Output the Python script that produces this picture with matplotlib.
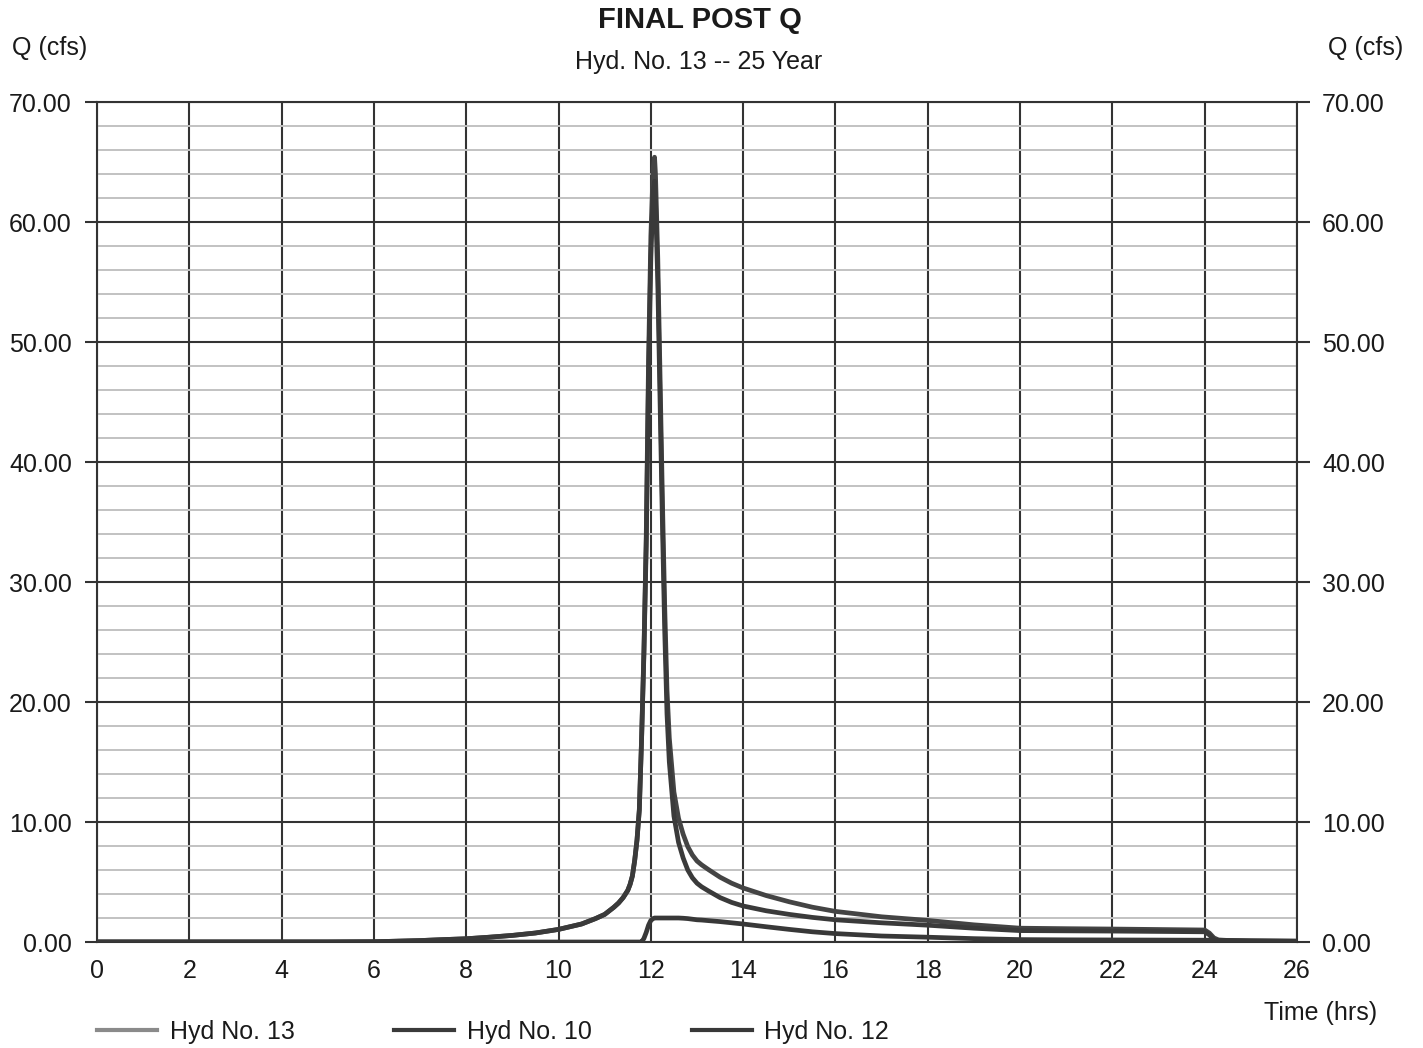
import matplotlib
matplotlib.use("Agg")
import matplotlib.pyplot as plt
from matplotlib.ticker import MultipleLocator

plt.rcParams['font.family'] = ['Liberation Sans', 'DejaVu Sans']

# Hydrograph ordinates (time in hours, flow in cfs)
time_hrs = [0, 2, 4, 5, 6, 7, 7.5, 8, 8.5, 9, 9.5, 10, 10.5, 10.8, 11.0, 11.2,
            11.3, 11.4, 11.5, 11.55, 11.6, 11.65, 11.7, 11.75, 11.8, 11.85,
            11.9, 11.95, 12.0, 12.05, 12.08, 12.1, 12.15, 12.2, 12.25, 12.3,
            12.35, 12.4, 12.5, 12.6, 12.7, 12.8, 12.9, 13.0, 13.1, 13.25, 13.5,
            13.75, 14, 14.5, 15, 15.5, 16, 17, 18, 19, 20, 21, 22, 23, 24,
            24.1, 24.2, 24.3, 24.5, 25, 26]

hyd_10 = [0, 0, 0, 0, 0.02, 0.12, 0.2, 0.27, 0.4, 0.55, 0.75, 1.05, 1.5, 1.95,
          2.3, 2.9, 3.25, 3.7, 4.3, 4.8, 5.5, 6.8, 8.5, 11.0, 17.0, 24.0,
          33.0, 47.0, 57.0, 62.5, 63.4, 62.0, 55.0, 45.0, 35.0, 26.0,
          19.0, 15.0, 10.5, 8.3, 7.0, 6.0, 5.35, 4.9, 4.6, 4.25, 3.7,
          3.3, 3.0, 2.6, 2.3, 2.05, 1.85, 1.6, 1.4, 1.15, 0.95, 0.93, 0.91,
          0.88, 0.85, 0.6, 0.2, 0.03, 0, 0, 0]

hyd_12 = [0, 0, 0, 0, 0, 0, 0, 0, 0, 0, 0, 0, 0, 0, 0, 0,
          0, 0, 0, 0, 0, 0, 0, 0, 0.0, 0.3,
          0.8, 1.4, 1.8, 1.95, 2.0, 2.0, 2.0, 2.0, 2.0, 2.0,
          2.0, 2.0, 2.0, 2.0, 1.98, 1.95, 1.9, 1.85, 1.83, 1.78, 1.7,
          1.6, 1.5, 1.27, 1.05, 0.85, 0.7, 0.5, 0.4, 0.28, 0.2, 0.18, 0.17,
          0.16, 0.15, 0.15, 0.14, 0.14, 0.13, 0.1, 0.07]

hyd_13 = [0, 0, 0, 0, 0.02, 0.12, 0.2, 0.27, 0.4, 0.55, 0.75, 1.05, 1.5, 1.95,
          2.3, 2.9, 3.25, 3.7, 4.3, 4.8, 5.5, 6.8, 8.5, 11.0, 17.0, 24.3,
          33.8, 48.4, 58.8, 64.45, 65.4, 64.0, 57.0, 47.0, 37.0, 28.0,
          21.0, 17.0, 12.5, 10.3, 8.98, 7.95, 7.25, 6.75, 6.43, 6.03, 5.4,
          4.9, 4.5, 3.87, 3.35, 2.9, 2.55, 2.1, 1.8, 1.43, 1.15, 1.11, 1.08,
          1.04, 1.0, 0.75, 0.34, 0.17, 0.13, 0.1, 0.07]

series_labels = ["Hyd No. 13", "Hyd No. 10", "Hyd No. 12"]
x_ticks = list(range(0, 27, 2))
y_ticks = list(range(0, 71, 10))

W, H = 1423, 1048
fig = plt.figure(figsize=(W / 100, H / 100), dpi=100)
fig.patch.set_facecolor("white")
ax = fig.add_axes([97 / W, 1 - 942 / H, 1200 / W, 840 / H])

dark = "#333333"
ax.set_xlim(0, 26)
ax.set_ylim(0, 70)
ax.set_xticks(x_ticks)
ax.set_yticks(y_ticks)
ax.yaxis.set_minor_locator(MultipleLocator(2))
ax.set_yticklabels([f"{v:.2f}" for v in y_ticks])

ax.grid(which="major", axis="both", color=dark, linewidth=1.5, zorder=1)
ax.grid(which="minor", axis="y", color="#c2c2c2", linewidth=1.4, zorder=0)
ax.set_axisbelow(True)

for s in ax.spines.values():
    s.set_color(dark)
    s.set_linewidth(1.5)

ax.tick_params(axis="y", which="major", direction="out", length=9, width=1.5,
               color=dark, left=True, right=True, labelleft=True,
               labelright=True, labelsize=18, pad=9, labelcolor="#1a1a1a")
ax.tick_params(axis="y", which="minor", length=0)
ax.tick_params(axis="x", which="major", length=0, labelsize=18, pad=12,
               labelcolor="#1a1a1a")

l13, = ax.plot(time_hrs, hyd_13, color="#444444", linewidth=3.4,
               label=series_labels[0], zorder=3, solid_joinstyle="round")
l10, = ax.plot(time_hrs, hyd_10, color="#3a3a3a", linewidth=3.4,
               label=series_labels[1], zorder=4, solid_joinstyle="round")
l12, = ax.plot(time_hrs, hyd_12, color="#383838", linewidth=3.4,
               label=series_labels[2], zorder=5, solid_joinstyle="round")

leg = fig.legend(handles=[l13, l10, l12], loc="center left",
                 bbox_to_anchor=(97 / W, 1 - 1032 / H), ncol=3, frameon=False,
                 fontsize=18, handlelength=2.4, handletextpad=0.5,
                 columnspacing=4.0, borderpad=0, borderaxespad=0)
for line in leg.get_lines():
    line.set_linewidth(3)
leg.get_lines()[0].set_color("#8a8a8a")
for t in leg.get_texts():
    t.set_color("#1a1a1a")

fig.text(700 / W, 1 - 20 / H, "FINAL POST Q", ha="center", va="center",
         fontsize=21, fontweight="bold", color="#1a1a1a")
fig.text(699 / W, 1 - 62 / H, "Hyd. No. 13 -- 25 Year", ha="center",
         va="center", fontsize=18, color="#1a1a1a")
fig.text(12 / W, 1 - 48 / H, "Q (cfs)", ha="left", va="center", fontsize=18,
         color="#1a1a1a")
fig.text(1403 / W, 1 - 48 / H, "Q (cfs)", ha="right", va="center",
         fontsize=18, color="#1a1a1a")
fig.text(1377 / W, 1 - 1013 / H, "Time (hrs)", ha="right", va="center",
         fontsize=18, color="#1a1a1a")

fig.savefig("out.png", dpi=100, facecolor="white")
